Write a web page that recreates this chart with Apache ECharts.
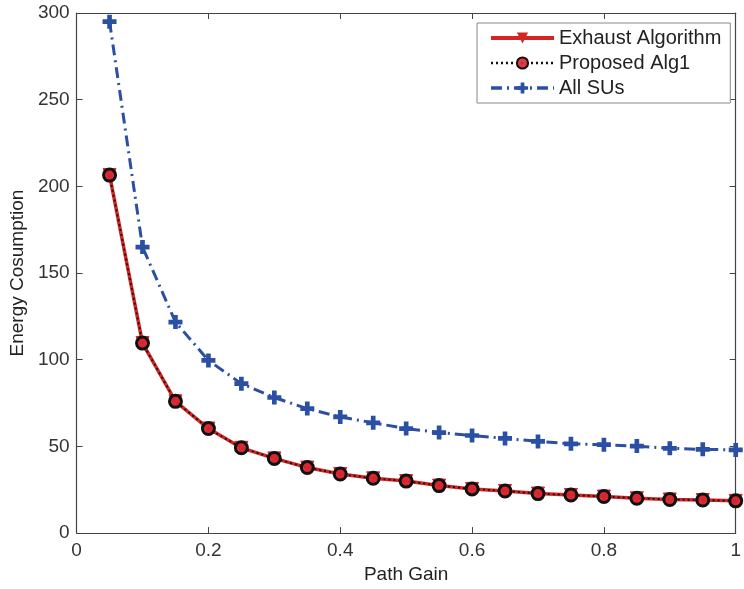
<!DOCTYPE html>
<html>
<head>
<meta charset="utf-8">
<script src="https://cdn.jsdelivr.net/npm/echarts@6/dist/echarts.min.js"></script>
<style>
html,body{margin:0;padding:0;background:#fff;}
#chart{width:744px;height:589px;}
</style>
</head>
<body>
<div id="chart"></div>
<script>
const pathGain = [0.05,0.1,0.15,0.2,0.25,0.3,0.35,0.4,0.45,0.5,0.55,0.6,0.65,0.7,0.75,0.8,0.85,0.9,0.95,1];
const exhaust = [206.5,109.6,76,60.3,49.2,43.1,37.8,34.1,31.6,30,27.4,25.5,24.3,22.8,22,21.1,20.1,19.4,19.1,18.6];
const proposed = [206.5,109.6,76,60.3,49.2,43.1,37.8,34.1,31.6,30,27.4,25.5,24.3,22.8,22,21.1,20.1,19.4,19.1,18.6];
const allSUs = [295,165,121.7,99.6,86.2,78.2,71.8,67,63.6,60.3,58,56.3,54.6,52.9,51.5,51,50.2,48.9,48.3,48];
const seriesNames = ['Exhaust Algorithm','Proposed Alg1','All SUs'];

const pair = (xs, ys) => xs.map((x,i)=>[x,ys[i]]);
const font = 'Liberation Sans, Arial, sans-serif';
const axisCol = '#444';

const chart = echarts.init(document.getElementById('chart'), null, {renderer:'canvas'});
const baseAxis = {
  axisLine:{show:true,onZero:false,lineStyle:{color:axisCol,width:1.2}},
  axisTick:{show:true,inside:true,length:6,lineStyle:{color:axisCol}},
  splitLine:{show:false}
};
chart.setOption({
  animation:false,
  backgroundColor:'#fff',
  grid:{left:75,right:4,top:13,bottom:54,containLabel:false},
  legend:{
    orient:'vertical', left:477, top:23,
    backgroundColor:'#fff', borderColor:'#888', borderWidth:1,
    padding:[5,9,5,12], itemGap:5, itemWidth:63, itemHeight:14,
    textStyle:{fontFamily:font,fontSize:20,lineHeight:20,color:'#222'},
    data:[
      {name:seriesNames[0],lineStyle:{width:4}},
      {name:seriesNames[1],lineStyle:{width:2.5}},
      {name:seriesNames[2],lineStyle:{width:3.5}}
    ]
  },
  xAxis:[
    Object.assign({type:'value',min:0,max:1,interval:0.2,position:'bottom',
      name:'Path Gain',nameLocation:'middle',nameGap:28,
      nameTextStyle:{fontFamily:font,fontSize:19,color:'#222'},
      axisLabel:{fontFamily:font,fontSize:19,color:'#333',margin:8,
        formatter:v=>String(Math.round(v*10)/10)}},baseAxis),
    Object.assign({type:'value',min:0,max:1,interval:0.2,position:'top',
      axisLabel:{show:false}},baseAxis)
  ],
  yAxis:[
    Object.assign({type:'value',min:0,max:300,interval:50,position:'left',
      name:'Energy Cosumption',nameLocation:'middle',nameGap:47,
      nameTextStyle:{fontFamily:font,fontSize:19,color:'#222'},
      axisLabel:{fontFamily:font,fontSize:19,color:'#333',margin:7}},baseAxis),
    Object.assign({type:'value',min:0,max:300,interval:50,position:'right',
      axisLabel:{show:false}},baseAxis)
  ],
  series:[
    {name:seriesNames[0],type:'line',data:pair(pathGain,exhaust),
      symbol:'triangle',symbolRotate:180,symbolSize:[13,13],
      itemStyle:{color:'#d42525',borderColor:'#d42525'},
      lineStyle:{color:'#d42525',width:3.5},z:2},
    {name:seriesNames[1],type:'line',data:pair(pathGain,proposed),
      symbol:'circle',symbolSize:12,
      itemStyle:{color:'rgba(220,40,50,0.9)',borderColor:'#111',borderWidth:3},
      lineStyle:{color:'#111',width:1.8,type:[2,3]},z:3},
    {name:seriesNames[2],type:'line',data:pair(pathGain,allSUs),
      symbol:'path://M-1,-3 L1,-3 L1,-1 L3,-1 L3,1 L1,1 L1,3 L-1,3 L-1,1 L-3,1 L-3,-1 L-1,-1 Z',
      symbolSize:14,
      itemStyle:{color:'#2a4fa3'},
      lineStyle:{color:'#2a4fa3',width:3,type:[11,5,2,5]},z:2}
  ]
});
</script>
</body>
</html>
